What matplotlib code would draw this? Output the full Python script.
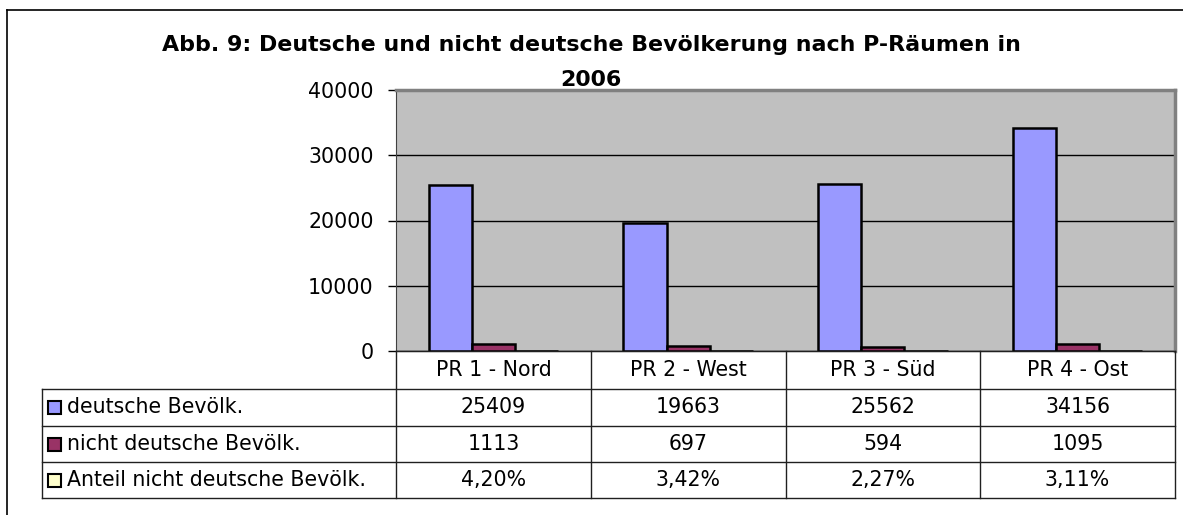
import matplotlib
matplotlib.use("Agg")
import matplotlib.pyplot as plt
import matplotlib.transforms as mtransforms
from matplotlib.lines import Line2D
from matplotlib.patches import Rectangle

plt.rcParams['font.family'] = ['DejaVu Sans']

# data
categories = ['PR 1 - Nord', 'PR 2 - West', 'PR 3 - Süd', 'PR 4 - Ost']
deutsche = [25409, 19663, 25562, 34156]
nicht_deutsche = [1113, 697, 594, 1095]
anteil = [0.0420, 0.0342, 0.0227, 0.0311]
anteil_labels = ['4,20%', '3,42%', '2,27%', '3,11%']
series_names = ['deutsche Bevölk.', 'nicht deutsche Bevölk.', 'Anteil nicht deutsche Bevölk.']
colors = ['#9999FF', '#993366', '#FFFFCC']
yticks = [0, 10000, 20000, 30000, 40000]

W, H = 1183, 515
FS = 14.8
fig = plt.figure(figsize=(W / 100, H / 100), dpi=100)


def fx(x):
    return x / W


def fy(y):
    return 1 - y / H


# plot area
ax_l, ax_r, ax_t, ax_b = 396, 1175, 90, 351
ax = fig.add_axes([fx(ax_l), fy(ax_b), fx(ax_r - ax_l), (ax_b - ax_t) / H])
ax.set_facecolor('#C0C0C0')

bw = 0.222
xs = range(len(categories))
series = [deutsche, nicht_deutsche, anteil]
for k, vals in enumerate(series):
    ax.bar([x + (k - 1) * bw for x in xs], vals, width=bw, color=colors[k],
           edgecolor='black', linewidth=1.8, zorder=3)

ax.set_xlim(-0.5, len(categories) - 0.5)
ax.set_ylim(0, 40000)
ax.set_yticks(yticks)
ax.set_yticklabels([str(v) for v in yticks], fontsize=FS)
ax.set_xticks([])
ax.yaxis.grid(True, color='black', linewidth=1)
ax.set_axisbelow(True)
ax.tick_params(axis='y', direction='out', length=6, width=1, pad=10)
for side in ['top', 'right']:
    ax.spines[side].set_color('#808080')
    ax.spines[side].set_linewidth(2.5)
ax.spines['left'].set_color('#404040')
ax.spines['bottom'].set_color('black')

# title
fig.text(fx(591), fy(51), 'Abb. 9: Deutsche und nicht deutsche Bevölkerung nach P-Räumen in',
         ha='center', va='baseline', fontsize=15.9, fontweight='bold')
fig.text(fx(591), fy(86), '2006', ha='center', va='baseline', fontsize=15.9, fontweight='bold')

# outer frame
fig.add_artist(Line2D([fx(7), 1], [fy(10), fy(10)], color='black', lw=1.2, transform=fig.transFigure))
fig.add_artist(Line2D([fx(7), fx(7)], [fy(10), 0], color='black', lw=1.2, transform=fig.transFigure))

# data table
rows = [351, 388.5, 426, 462, 498]
tab_l = 42
blend = mtransforms.blended_transform_factory(ax.transData, fig.transFigure)
lc = '#202020'

# horizontal lines
fig.add_artist(Line2D([fx(ax_l), fx(ax_r)], [fy(rows[0])] * 2, color=lc, lw=1, transform=fig.transFigure))
for r in rows[1:]:
    fig.add_artist(Line2D([fx(tab_l), fx(ax_r)], [fy(r)] * 2, color=lc, lw=1, transform=fig.transFigure))
# vertical lines
fig.add_artist(Line2D([fx(tab_l), fx(tab_l)], [fy(rows[1]), fy(rows[-1])], color=lc, lw=1,
                      transform=fig.transFigure))
for i in range(len(categories) + 1):
    fig.add_artist(Line2D([i - 0.5, i - 0.5], [fy(rows[0]), fy(rows[-1])], color=lc, lw=1,
                          transform=blend))

# category header
for i, c in enumerate(categories):
    fig.text(i, fy((rows[0] + rows[1]) / 2), c, transform=blend, ha='center', va='center', fontsize=FS)

# series rows
row_vals = [[str(v) for v in deutsche], [str(v) for v in nicht_deutsche], anteil_labels]
for k in range(3):
    ymid = (rows[k + 1] + rows[k + 2]) / 2
    fig.add_artist(Rectangle((fx(48), fy(ymid + 6.5)), fx(13), 13 / H, facecolor=colors[k],
                             edgecolor='black', lw=1.5, transform=fig.transFigure))
    fig.text(fx(67), fy(ymid), series_names[k], ha='left', va='center', fontsize=FS)
    for i, v in enumerate(row_vals[k]):
        fig.text(i, fy(ymid), v, transform=blend, ha='center', va='center', fontsize=FS)

fig.savefig('out.png', dpi=100)
